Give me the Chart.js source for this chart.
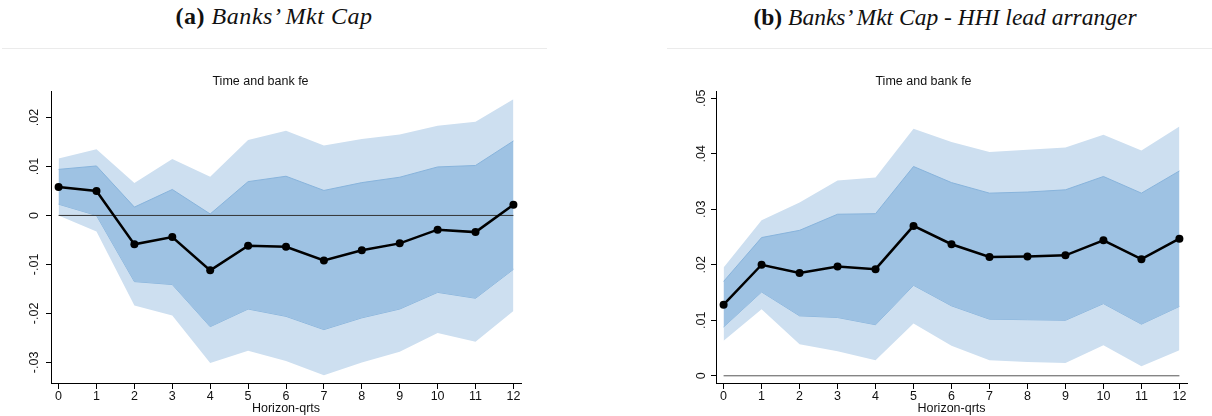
<!DOCTYPE html>
<html>
<head>
<meta charset="utf-8">
<script src="https://cdn.jsdelivr.net/npm/chart.js@4"></script>
<style>
  html, body { margin: 0; padding: 0; background: #fff; overflow: hidden; }
  body { width: 1212px; height: 416px; position: relative; }
  .ptitle { position: absolute; top: 3px; font-family: "Liberation Serif", serif; font-size: 24px; letter-spacing: 0.55px; color: #111; white-space: nowrap; transform: translateX(-50%); }
  .ptitle.long { font-size: 23.5px; letter-spacing: 0; top: 3.5px; }
  .ptitle b { font-style: normal; }
  .ptitle i { font-style: italic; }
  .rule { position: absolute; top: 48px; height: 1px; background: #ebebeb; }
  canvas { position: absolute; top: 60px; }
</style>
</head>
<body>
<div class="ptitle" style="left:274px"><b>(a)</b> <i>Banks’ Mkt Cap</i></div>
<div class="ptitle long" style="left:945px"><b>(b)</b> <i>Banks’ Mkt Cap - HHI lead arranger</i></div>
<div class="rule" style="left:2px;width:545px"></div>
<div class="rule" style="left:667px;width:545px"></div>
<canvas id="chartA" width="560" height="356" style="left:0px"></canvas>
<canvas id="chartB" width="552" height="356" style="left:660px"></canvas>

<script>
// horizons in quarters
const horizons = [0, 1, 2, 3, 4, 5, 6, 7, 8, 9, 10, 11, 12];

// (a) banks' market cap
const capCoef = [0.0058, 0.0050, -0.0059, -0.0044, -0.0112, -0.0062, -0.0064, -0.0092, -0.0071, -0.0057, -0.0029, -0.0034, 0.0022];
const capHi95 = [0.0116, 0.0135, 0.0066, 0.0115, 0.0079, 0.0154, 0.0173, 0.0143, 0.0156, 0.0165, 0.0183, 0.0191, 0.0237];
const capHi90 = [0.0094, 0.0101, 0.0017, 0.0053, 0.0003, 0.0069, 0.0080, 0.0051, 0.0067, 0.0078, 0.0099, 0.0102, 0.0152];
const capLo90 = [0.0023, 0.0000, -0.0135, -0.0141, -0.0227, -0.0191, -0.0206, -0.0233, -0.0209, -0.0191, -0.0157, -0.0169, -0.0110];
const capLo95 = [0.0000, -0.0033, -0.0184, -0.0204, -0.0301, -0.0276, -0.0297, -0.0326, -0.0300, -0.0278, -0.0240, -0.0258, -0.0195];
const capTicks = [-0.03, -0.02, -0.01, 0, 0.01, 0.02];

// (b) banks' market cap, HHI lead arranger
const hhiCoef = [0.0128, 0.0200, 0.0185, 0.0197, 0.0192, 0.0270, 0.0237, 0.0214, 0.0215, 0.0217, 0.0244, 0.0210, 0.0247];
const hhiHi95 = [0.0195, 0.0280, 0.0312, 0.0352, 0.0357, 0.0445, 0.0421, 0.0403, 0.0407, 0.0411, 0.0434, 0.0406, 0.0449];
const hhiHi90 = [0.0170, 0.0249, 0.0262, 0.0291, 0.0292, 0.0377, 0.0348, 0.0329, 0.0331, 0.0335, 0.0359, 0.0329, 0.0369];
const hhiLo90 = [0.0088, 0.0151, 0.0108, 0.0105, 0.0092, 0.0163, 0.0126, 0.0102, 0.0101, 0.0100, 0.0130, 0.0093, 0.0125];
const hhiLo95 = [0.0063, 0.0120, 0.0057, 0.0044, 0.0028, 0.0094, 0.0054, 0.0028, 0.0025, 0.0023, 0.0055, 0.0017, 0.0046];
const hhiTicks = [0, 0.01, 0.02, 0.03, 0.04, 0.05];

const subtitle = "Time and bank fe";
const xTitle = "Horizon-qrts";

const lightBand = "#cddff0";
const darkBand = "#9ec2e3";
const darkEdge = "#88b4dc";

Chart.defaults.font.family = "'Liberation Sans', Arial, sans-serif";
Chart.defaults.color = "#111";

const pts = vals => vals.map((v, i) => ({ x: horizons[i], y: v }));

// stata style: .02, -.01, 0
const fmt = v => {
  const r = Math.round(v * 100) / 100;
  return r === 0 ? "0" : r.toString().replace("0.", ".");
};

function makeChart(id, s, o) {
  const first = horizons[0], last = horizons[horizons.length - 1];
  return new Chart(document.getElementById(id), {
    type: "line",
    data: {
      datasets: [
        { data: pts(s.coef), borderColor: "#000", borderWidth: 2.5, pointRadius: 4,
          pointBackgroundColor: "#000", pointBorderWidth: 0, fill: false, tension: 0 },
        { data: [{ x: first, y: 0 }, { x: last, y: 0 }], borderColor: o.zeroColor,
          borderWidth: 1, pointRadius: 0, fill: false },
        { data: pts(s.hi90), borderColor: darkEdge, borderWidth: 1, pointRadius: 0,
          backgroundColor: darkBand, fill: "+1" },
        { data: pts(s.lo90), borderColor: darkEdge, borderWidth: 1, pointRadius: 0, fill: false },
        { data: pts(s.hi95), borderWidth: 0, borderColor: lightBand, pointRadius: 0,
          backgroundColor: lightBand, fill: "+1" },
        { data: pts(s.lo95), borderWidth: 0, borderColor: lightBand, pointRadius: 0, fill: false }
      ]
    },
    options: {
      responsive: false,
      animation: false,
      events: [],
      layout: { padding: { left: 0, right: o.padRight, top: 0, bottom: 0 } },
      plugins: {
        legend: { display: false },
        tooltip: { enabled: false },
        title: { display: true, text: subtitle, color: "#111",
          font: { size: 12.5, weight: "normal" }, padding: { top: 14, bottom: 2 } }
      },
      scales: {
        x: {
          type: "linear", min: -0.2, max: 12.2,
          afterBuildTicks: sc => { sc.ticks = horizons.map(v => ({ value: v })); },
          afterFit: sc => { sc.height = 33; },
          grid: { display: true, drawOnChartArea: false, drawTicks: true, tickLength: 6, color: "#000" },
          border: { display: true, color: "#000", width: 1 },
          ticks: { padding: 0, font: { size: 12.5 }, color: "#111", maxRotation: 0, autoSkip: false },
          title: { display: true, text: xTitle, font: { size: 12.5 }, color: "#111",
            padding: { top: 0, bottom: 0 } }
        },
        y: {
          type: "linear", min: o.yMin, max: o.yMax,
          afterBuildTicks: sc => { sc.ticks = o.yTicks.map(v => ({ value: v })); },
          afterFit: sc => { sc.width = o.yWidth; },
          grid: { display: true, drawOnChartArea: false, drawTicks: true, tickLength: 5, color: "#000" },
          border: { display: true, color: "#000", width: 1 },
          ticks: { minRotation: 90, maxRotation: 90, crossAlign: "center", padding: 1,
            font: { size: 12.5 }, color: "#111", callback: v => fmt(v) }
        }
      }
    }
  });
}

makeChart("chartA",
  { coef: capCoef, hi95: capHi95, hi90: capHi90, lo90: capLo90, lo95: capLo95 },
  { yMin: -0.0342, yMax: 0.0254, yTicks: capTicks, yWidth: 51, padRight: 39, zeroColor: "#333" });

makeChart("chartB",
  { coef: hhiCoef, hi95: hhiHi95, hi90: hhiHi90, lo90: hhiLo90, lo95: hhiLo95 },
  { yMin: -0.0013, yMax: 0.0513, yTicks: hhiTicks, yWidth: 56, padRight: 25, zeroColor: "#555" });
</script>
</body>
</html>
